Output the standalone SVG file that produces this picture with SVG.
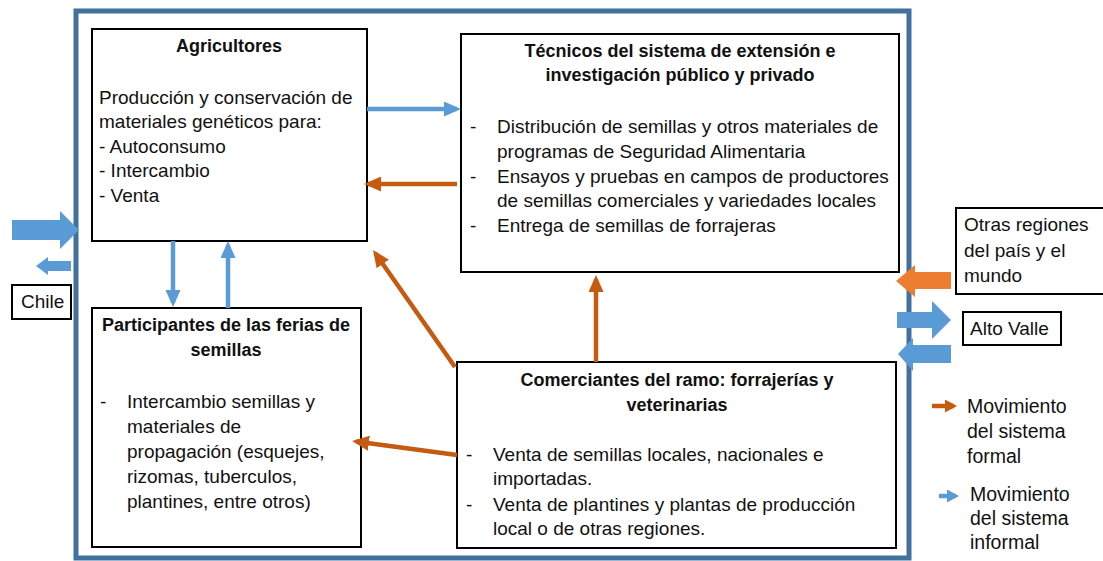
<svg xmlns="http://www.w3.org/2000/svg" width="1103" height="561" viewBox="0 0 1103 561">
<defs>
<style>
.box{fill:#fff;stroke:#000;stroke-width:2}
.side{fill:#fff;stroke:#000;stroke-width:2}
text{font-family:"Liberation Sans",Arial,sans-serif;fill:#111}
.t{font-size:19px}
.b{font-size:18px;font-weight:bold;text-anchor:middle}
.lg{font-size:19.5px}
.cb{fill:none;stroke:#5B9BD5;stroke-width:4.5}
.co{fill:none;stroke:#C55A11;stroke-width:4.5}
.fb{fill:#5B9BD5}
.fo{fill:#ED7D31}
</style>
<marker id="hb" markerUnits="userSpaceOnUse" markerWidth="17" markerHeight="15" viewBox="0 0 17 15" refX="13" refY="7.5" orient="auto"><path d="M0,0 L17,7.5 L0,15 z" fill="#5B9BD5"/></marker>
<marker id="ho" markerUnits="userSpaceOnUse" markerWidth="17" markerHeight="15" viewBox="0 0 17 15" refX="13" refY="7.5" orient="auto"><path d="M0,0 L17,7.5 L0,15 z" fill="#C55A11"/></marker>
<marker id="lb" markerUnits="userSpaceOnUse" markerWidth="12" markerHeight="13" viewBox="0 0 12 13" refX="9" refY="6.5" orient="auto"><path d="M0,0 L12,6.5 L0,13 z" fill="#5B9BD5"/></marker>
<marker id="lo" markerUnits="userSpaceOnUse" markerWidth="12" markerHeight="13" viewBox="0 0 12 13" refX="9" refY="6.5" orient="auto"><path d="M0,0 L12,6.5 L0,13 z" fill="#C55A11"/></marker>
</defs>
<rect width="1103" height="561" fill="#fff"/>
<rect id="frame" x="76" y="11" width="833" height="547" fill="none" stroke="#41719C" stroke-width="5"/>

<g id="agricultores">
<rect class="box" x="92" y="29" width="275" height="212"/>
<text class="b" x="229" y="52">Agricultores</text>
<text class="t" x="99" y="104">Producción y conservación de</text>
<text class="t" x="99" y="128">materiales genéticos para:</text>
<text class="t" x="99" y="153">- Autoconsumo</text>
<text class="t" x="99" y="177">- Intercambio</text>
<text class="t" x="99" y="202">- Venta</text>
</g>

<g id="tecnicos">
<rect class="box" x="461" y="34" width="438" height="238"/>
<text class="b" x="680" y="57">Técnicos del sistema de extensión e</text>
<text class="b" x="680" y="81">investigación público y privado</text>
<text class="t" x="470" y="133">-</text>
<text class="t" x="497" y="133">Distribución de semillas y otros materiales de</text>
<text class="t" x="497" y="158">programas de Seguridad Alimentaria</text>
<text class="t" x="470" y="183">-</text>
<text class="t" x="497" y="183">Ensayos y pruebas en campos de productores</text>
<text class="t" x="497" y="207">de semillas comerciales y variedades locales</text>
<text class="t" x="470" y="232">-</text>
<text class="t" x="497" y="232">Entrega de semillas de forrajeras</text>
</g>

<g id="participantes">
<rect class="box" x="92" y="308" width="269" height="239"/>
<text class="b" x="226" y="331">Participantes de las ferias de</text>
<text class="b" x="226" y="356">semillas</text>
<text class="t" x="100" y="408">-</text>
<text class="t" x="127" y="408">Intercambio semillas y</text>
<text class="t" x="127" y="433">materiales de</text>
<text class="t" x="127" y="458">propagación (esquejes,</text>
<text class="t" x="127" y="483">rizomas, tuberculos,</text>
<text class="t" x="127" y="508">plantines, entre otros)</text>
</g>

<g id="comerciantes">
<rect class="box" x="457" y="362" width="439" height="186"/>
<text class="b" x="677" y="386">Comerciantes del ramo: forrajerías y</text>
<text class="b" x="677" y="411">veterinarias</text>
<text class="t" x="466" y="461">-</text>
<text class="t" x="493" y="461">Venta de semillas locales, nacionales e</text>
<text class="t" x="493" y="485">importadas.</text>
<text class="t" x="466" y="511">-</text>
<text class="t" x="493" y="511">Venta de plantines y plantas de producción</text>
<text class="t" x="493" y="535">local o de otras regiones.</text>
</g>

<g id="chile">
<rect class="side" x="12" y="285" width="59" height="34"/>
<text class="t" x="21" y="308">Chile</text>
</g>

<g id="otras">
<rect class="side" x="956" y="208" width="150" height="86"/>
<text class="t" x="964" y="231">Otras regiones</text>
<text class="t" x="964" y="257">del país y el</text>
<text class="t" x="964" y="282">mundo</text>
</g>

<g id="altovalle">
<rect class="side" x="963" y="312" width="98" height="33"/>
<text class="t" x="970" y="335">Alto Valle</text>
</g>

<g id="connectors">
<path class="cb" d="M367,109 L457,109" marker-end="url(#hb)"/>
<path class="co" d="M457,184 L368,184" marker-end="url(#ho)"/>
<path class="cb" d="M173,241 L173,303" marker-end="url(#hb)"/>
<path class="cb" d="M228,308 L228,245" marker-end="url(#hb)"/>
<path class="co" d="M455,367 L375.3,253.3" marker-end="url(#ho)"/>
<path class="co" d="M596,362 L596,279" marker-end="url(#ho)"/>
<path class="co" d="M457,455 L356,441.5" marker-end="url(#ho)"/>
<polygon class="fb" points="12,220 60,220 60,211 79,230 60,249 60,240 12,240"/>
<polygon class="fb" points="71,261 48,261 48,257 36,266 48,275 48,271 71,271"/>
<polygon class="fo" points="951,272 915,272 915,265 896,281 915,297 915,289 951,289"/>
<polygon class="fb" points="897,312 932,312 932,301 951,320 932,339 932,328 897,328"/>
<polygon class="fb" points="951,345 913,345 913,338 898,354 913,371 913,363 951,363"/>
</g>

<g id="legend">
<path class="co" d="M932,406 L954,406" marker-end="url(#lo)"/>
<text class="lg" x="967" y="413">Movimiento</text>
<text class="lg" x="967" y="438">del sistema</text>
<text class="lg" x="967" y="463">formal</text>
<path class="cb" d="M939,496 L956,496" marker-end="url(#lb)"/>
<text class="lg" x="970" y="501">Movimiento</text>
<text class="lg" x="970" y="525">del sistema</text>
<text class="lg" x="970" y="549">informal</text>
</g>
</svg>
